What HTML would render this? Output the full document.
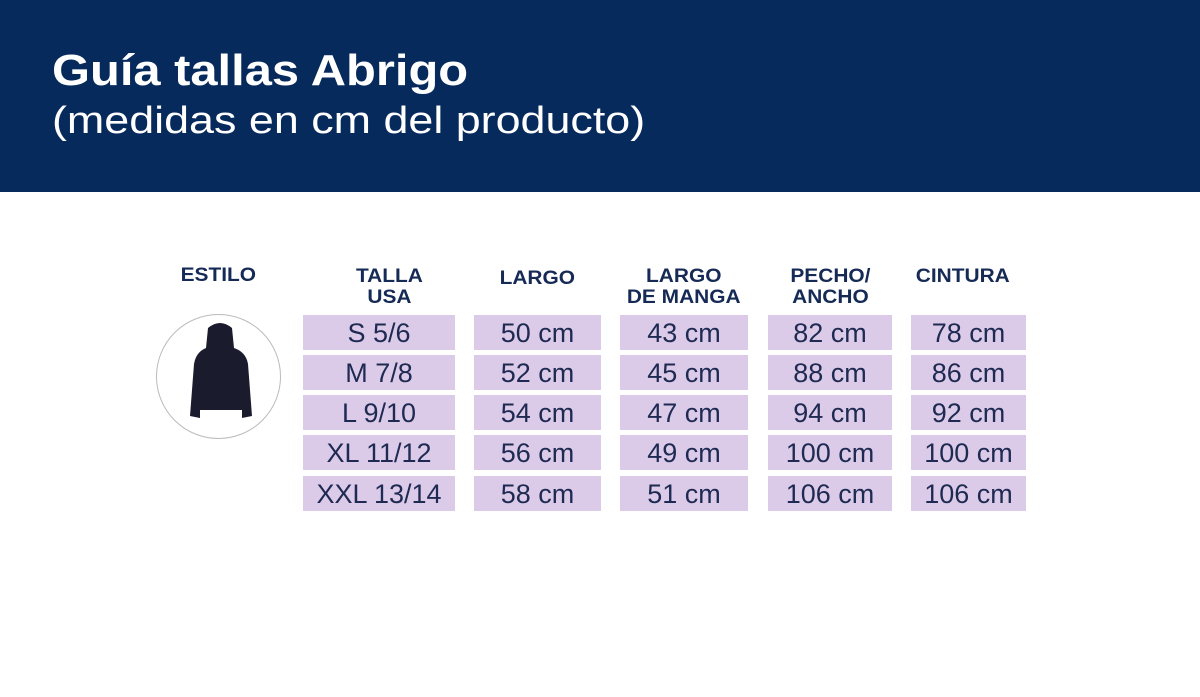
<!DOCTYPE html>
<html><head><meta charset="utf-8"><style>
body{margin:0;width:1200px;height:697px;background:#fff;position:relative;overflow:hidden;font-family:"Liberation Sans",sans-serif;}
.hdr{position:absolute;left:0;top:0;width:1200px;height:192px;background:#072a5c;}
.t1{position:absolute;left:52px;top:46px;color:#fff;font-weight:bold;font-size:44px;transform:scaleX(1.11);transform-origin:0 0;}
.t2{position:absolute;left:52px;top:100px;color:#fff;font-size:38px;transform:scaleX(1.18);transform-origin:0 0;}
.h{position:absolute;color:#162a56;font-weight:900;font-size:19px;line-height:21px;text-align:center;}
.h span{display:inline-block;transform:scaleX(1.1);}
.c{position:absolute;height:35px;background:#dccbe8;color:#1e2a52;font-size:27px;line-height:37px;text-align:center;}
.circ{position:absolute;left:156px;top:314px;width:123px;height:123px;border:1.5px solid #bbb;border-radius:50%;}
</style></head><body>
<div class="hdr"></div>
<div class="t1">Guía tallas Abrigo</div>
<div class="t2">(medidas en cm del producto)</div>
<div class="h" style="left:168px;top:265px;width:100px"><span>ESTILO</span></div>
<div class="h" style="left:303px;top:266px;width:172px"><span>TALLA<br>USA</span></div>
<div class="h" style="left:474px;top:268px;width:127px"><span>LARGO</span></div>
<div class="h" style="left:610px;top:266px;width:148px"><span>LARGO<br>DE MANGA</span></div>
<div class="h" style="left:768px;top:266px;width:124px"><span>PECHO/<br>ANCHO</span></div>
<div class="h" style="left:900px;top:266px;width:126px"><span>CINTURA</span></div>
<div class="circ"></div>
<svg style="position:absolute;left:180px;top:320px" width="80" height="110" viewBox="0 0 80 110">
<path d="M28 8 Q40 -2 52 8 L54 28 Q66 32 68 44 L72 96 L62 98 L62 90 L20 90 L20 98 L10 96 L14 44 Q16 32 26 28 Z" fill="#1a1c2e"/>
</svg>
<div id="g"></div>
<script>
var cols=[[303,152],[474,127],[620,128],[768,124],[911,115]];
var rows=[315,355,395,435,476];
var d=[["S 5/6","50 cm","43 cm","82 cm","78 cm"],["M 7/8","52 cm","45 cm","88 cm","86 cm"],["L 9/10","54 cm","47 cm","94 cm","92 cm"],["XL 11/12","56 cm","49 cm","100 cm","100 cm"],["XXL 13/14","58 cm","51 cm","106 cm","106 cm"]];
var h="";
for(var r=0;r<5;r++)for(var c=0;c<5;c++)h+='<div class="c" style="left:'+cols[c][0]+'px;top:'+rows[r]+'px;width:'+cols[c][1]+'px">'+d[r][c]+'</div>';
document.getElementById("g").innerHTML=h;
</script>
</body></html>
